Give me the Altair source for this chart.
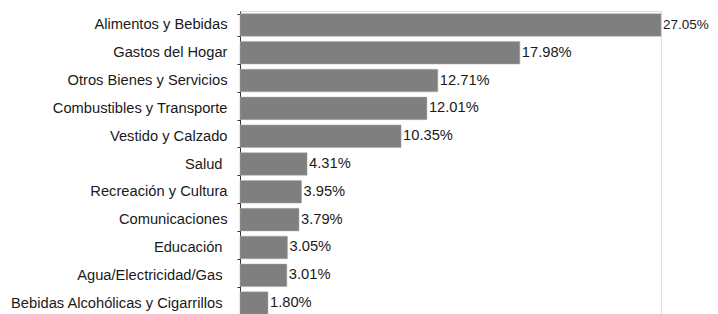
import altair as alt
import pandas as pd

categories = [
    "Alimentos y Bebidas",
    "Gastos del Hogar",
    "Otros Bienes y Servicios",
    "Combustibles y Transporte",
    "Vestido y Calzado",
    "Salud",
    "Recreación y Cultura",
    "Comunicaciones",
    "Educación",
    "Agua/Electricidad/Gas",
    "Bebidas Alcohólicas y Cigarrillos",
]
values = [27.05, 17.98, 12.71, 12.01, 10.35, 4.31, 3.95, 3.79, 3.05, 3.01, 1.80]
# labels that sit a little further from the axis in the original
indented = ["Salud", "Educación", "Agua/Electricidad/Gas", "Bebidas Alcohólicas y Cigarrillos"]

df = pd.DataFrame({
    "cat": categories,
    "val": values,
    "lbl": [f"{v:.2f}%" for v in values],
})

FONT = "Liberation Sans"
FS = 14.7

ind_list = ",".join("'" + s + "'" for s in indented)
pad_test = f"indexof([{ind_list}], datum.value) >= 0"

y = alt.Y(
    "cat:N",
    sort=categories,
    title=None,
    scale=alt.Scale(paddingInner=0.19, paddingOuter=0.095),
    axis=alt.Axis(
        tickBand="extent",
        tickSize=3,
        tickColor="#333333",
        domainColor="#333333",
        labelPadding={"condition": {"test": pad_test, "value": 15}, "value": 10},
        labelLimit=400,
        labelFont=FONT,
        labelFontSize=FS,
        labelColor="#1a1a1a",
        grid=False,
    ),
)
x = alt.X("val:Q", axis=None, scale=alt.Scale(domain=[0, 27.05], nice=False, zero=True))

bars = alt.Chart(df).mark_bar(color="#7f7f7f", stroke="#a8a8a8", strokeWidth=0.5).encode(x=x, y=y)
text = alt.Chart(df).mark_text(
    align="left", baseline="middle", dx=2, font=FONT, color="#1a1a1a"
).encode(
    x=x,
    y=y,
    text="lbl:N",
    size=alt.condition("datum.val > 20", alt.value(13.5), alt.value(FS)),
)

chart = (
    (bars + text)
    .properties(
        width=421,
        height=306,
        autosize=alt.AutoSizeParams(type="none"),
        padding={"left": 232, "top": 3, "right": 49, "bottom": 0},
    )
    .configure_view(stroke=None)
    .configure(background="white")
)

chart.save("out.html", embed_options={"renderer": "svg", "actions": False})
